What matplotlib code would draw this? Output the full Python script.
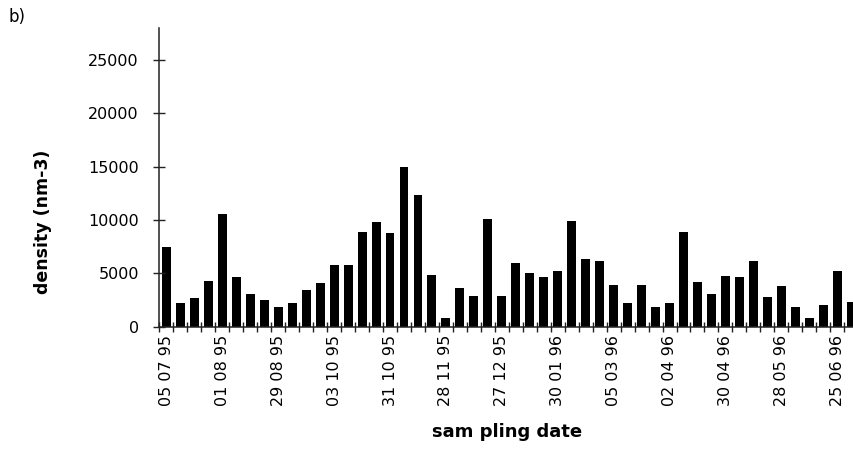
import matplotlib
matplotlib.use("Agg")
import matplotlib.pyplot as plt
import numpy as np

# Zooplankton density per sampling date (ind. m-3), July 1995 - July 1996
density = [
    7500, 2200, 2650, 4300, 10550, 4650, 3100, 2500, 1850, 2200,
    3450, 4100, 5800, 5800, 8900, 9850, 8800, 14950, 12300, 4850,
    800, 3600, 2850, 10050, 2850, 5950, 5050, 4700, 5200, 9900,
    6300, 6150, 3950, 2250, 3950, 1800, 2250, 8850, 4150, 3050,
    4750, 4650, 6200, 2750, 3850, 1800, 800, 2000, 5250, 2350,
]

# Labelled sampling dates (every fourth sample)
tick_labels = [
    "05 07 95", "01 08 95", "29 08 95", "03 10 95", "31 10 95",
    "28 11 95", "27 12 95", "30 01 96", "05 03 96", "02 04 96",
    "30 04 96", "28 05 96", "25 06 96",
]
y_ticks = [0, 5000, 10000, 15000, 20000, 25000]

fig = plt.figure(figsize=(8.54, 4.49), dpi=100)
ax = fig.add_axes([0.1862, 0.2724, 0.8192, 0.6652])

x = np.arange(len(density))
ax.bar(x, density, width=0.64, color="black", edgecolor="none")

ax.set_xlim(-0.53, len(density) - 0.47)
ax.set_ylim(0, 28000)

for side in ("top", "right"):
    ax.spines[side].set_visible(False)
for side in ("left", "bottom"):
    ax.spines[side].set_linewidth(1.1)
    ax.spines[side].set_color("#222222")

# y axis
ax.set_yticks(y_ticks)
ax.set_yticklabels([str(v) for v in y_ticks], fontsize=11.5)
ax.tick_params(axis="y", direction="inout", length=9, width=1.0, pad=10,
               color="#222222")

# x axis: labels every fourth sample, tick marks between categories
ax.set_xticks(x[::4])
ax.set_xticklabels(tick_labels, rotation=90, fontsize=11.5, va="top", ha="center")
ax.tick_params(axis="x", which="major", length=0, pad=6)
ax.set_xticks(np.arange(-0.5, len(density), 1.0), minor=True)
ax.tick_params(axis="x", which="minor", direction="inout", length=7, width=1.0,
               color="#222222")

fig.text(43 / 854, 1 - 222 / 449, "density (nm-3)", rotation=90,
         fontsize=12.5, fontweight="bold", ha="center", va="center")
fig.text(507 / 854, 1 - 432 / 449, "sam pling date",
         fontsize=13, fontweight="bold", ha="center", va="center")
fig.text(8 / 854, 1 - 17 / 449, "b)", fontsize=12, ha="left", va="center")

fig.savefig("out.png", dpi=100)
